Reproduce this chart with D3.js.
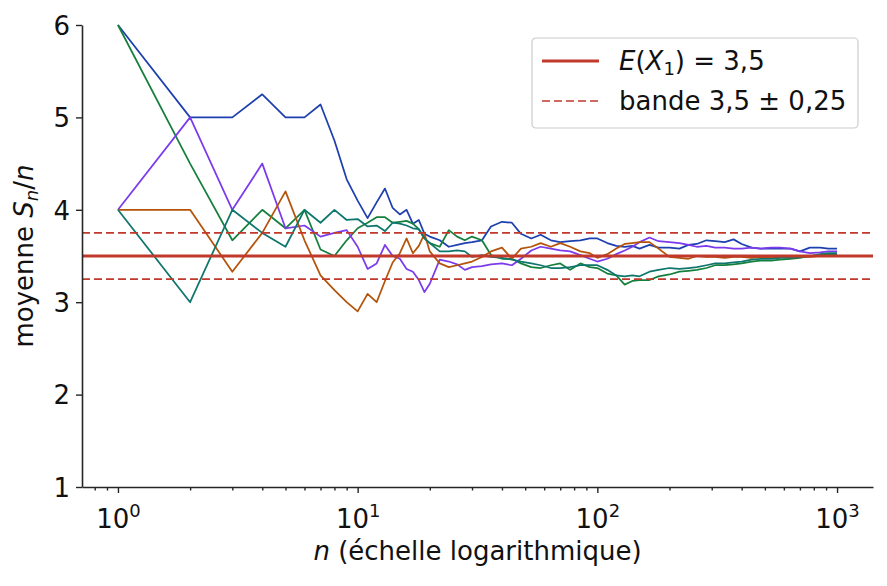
<!DOCTYPE html>
<meta charset="utf-8">
<title>Moyenne empirique S_n/n</title>
<style>
  body {
    margin: 0;
    background: #fff;
  }

  svg {
    display: block;
    font-family: "DejaVu Sans", sans-serif;
  }

  .series path {
    fill: none;
    stroke-width: 1.75px;
    stroke-linejoin: round;
  }

  .axis path,
  .axis line {
    stroke: #262626;
  }

  .axis path {
    stroke-width: 1.6px;
  }

  .axis line {
    stroke-width: 1.4px;
  }

  .axis text {
    fill: #111;
    font-size: 26px;
    font-family: "DejaVu Sans", sans-serif;
  }

  .label {
    fill: #111;
    font-size: 26px;
  }

  .ref {
    stroke: #c0392b;
    fill: none;
  }
</style>
<svg width="887" height="586"></svg>
<script src="https://cdn.jsdelivr.net/npm/d3@7"></script>
<script>
  // valeurs de n retenues
  var nValues = [1, 2, 3, 4, 5, 6, 7, 8, 9, 10, 11, 12, 13, 14, 15, 16, 17, 18, 19, 20,
    22, 24, 26, 28, 30, 33, 36, 40, 44, 48, 53, 58, 64, 70, 77, 85, 93,
    100, 110, 120, 130, 140, 150, 165, 180, 200, 220, 240, 260, 285, 310,
    340, 370, 400, 440, 480, 530, 580, 640, 700, 770, 850, 920, 1000];

  // moyennes S_n/n pour chaque trajectoire
  var serieBleue = [6, 5, 5, 5.25, 5, 5, 5.14, 4.75, 4.33, 4.1, 3.91, 4.08, 4.23, 4.02, 3.95, 4.0, 3.85, 3.89, 3.74, 3.71,
    3.67, 3.60, 3.62, 3.64, 3.65, 3.67, 3.82, 3.87, 3.86, 3.74, 3.69, 3.73, 3.67, 3.65, 3.66, 3.67, 3.69,
    3.69, 3.64, 3.61, 3.60, 3.61, 3.58, 3.62, 3.59, 3.59, 3.58, 3.62, 3.63, 3.67, 3.66,
    3.65, 3.68, 3.63, 3.59, 3.58, 3.58, 3.58, 3.58, 3.55, 3.59, 3.59, 3.58, 3.58];

  var serieVerte = [6, 4.5, 3.67, 4, 3.8, 4, 3.57, 3.5, 3.67, 3.8, 3.86, 3.92, 3.92, 3.86, 3.87, 3.88, 3.85, 3.79, 3.69, 3.64,
    3.60, 3.78, 3.71, 3.67, 3.71, 3.67, 3.51, 3.47, 3.47, 3.42, 3.38, 3.37, 3.40, 3.42, 3.35, 3.42, 3.38,
    3.37, 3.31, 3.29, 3.19, 3.23, 3.24, 3.24, 3.28, 3.30, 3.33, 3.34, 3.35, 3.37, 3.40,
    3.40, 3.41, 3.42, 3.44, 3.45, 3.45, 3.46, 3.47, 3.48, 3.50, 3.51, 3.52, 3.52];

  var serieViolette = [4, 5, 4, 4.5, 3.8, 3.83, 3.71, 3.75, 3.78, 3.6, 3.36, 3.42, 3.62, 3.5, 3.47, 3.36, 3.33, 3.24, 3.11, 3.2,
    3.46, 3.44, 3.41, 3.35, 3.38, 3.39, 3.41, 3.42, 3.40, 3.47, 3.56, 3.60, 3.58, 3.56, 3.55, 3.51, 3.47,
    3.44, 3.47, 3.52, 3.56, 3.60, 3.65, 3.70, 3.66, 3.65, 3.64, 3.62, 3.60, 3.61, 3.59,
    3.59, 3.58, 3.58, 3.59, 3.58, 3.59, 3.59, 3.58, 3.55, 3.53, 3.54, 3.55, 3.55];

  var serieOrange = [4, 4, 3.33, 3.75, 4.2, 3.67, 3.29, 3.13, 3.0, 2.9, 3.09, 3.0, 3.23, 3.43, 3.53, 3.69, 3.53, 3.61, 3.74, 3.55,
    3.42, 3.38, 3.40, 3.42, 3.44, 3.49, 3.55, 3.59, 3.47, 3.58, 3.60, 3.64, 3.60, 3.64, 3.60, 3.55, 3.53,
    3.48, 3.52, 3.58, 3.63, 3.64, 3.65, 3.65, 3.58, 3.49, 3.48, 3.47, 3.50, 3.49, 3.49,
    3.48, 3.49, 3.49, 3.48, 3.49, 3.48, 3.49, 3.48, 3.49, 3.49, 3.50, 3.50, 3.50];

  var serieSarcelle = [4, 3, 4, 3.75, 3.6, 4, 3.86, 4, 3.89, 3.9, 3.82, 3.83, 3.77, 3.86, 3.85, 3.83, 3.80, 3.79, 3.69, 3.64,
    3.55, 3.55, 3.56, 3.55, 3.49, 3.51, 3.49, 3.48, 3.46, 3.44, 3.42, 3.40, 3.37, 3.37, 3.38, 3.40, 3.40,
    3.40, 3.35, 3.29, 3.28, 3.29, 3.28, 3.33, 3.35, 3.37, 3.36, 3.37, 3.38, 3.40, 3.42,
    3.42, 3.43, 3.44, 3.46, 3.47, 3.47, 3.48, 3.48, 3.49, 3.50, 3.52, 3.53, 3.53];

  var esperance = 3.5,
    demiBande = 0.25;

  var yTicks = [1, 2, 3, 4, 5, 6],
    xDecades = [0, 1, 2, 3];

  var series = [
    { values: serieBleue, color: "#1e40af" },
    { values: serieVerte, color: "#15803d" },
    { values: serieViolette, color: "#7c3aed" },
    { values: serieOrange, color: "#b45309" },
    { values: serieSarcelle, color: "#0f766e" }
  ];

  var red = "#c0392b";

  var svg = d3.select("svg"),
    margin = { top: 25, right: 14, bottom: 99, left: 82 },
    width = +svg.attr("width") - margin.left - margin.right,
    height = +svg.attr("height") - margin.top - margin.bottom;

  var x = d3.scaleLog()
    .domain([Math.pow(10, -0.15), Math.pow(10, 3.15)])
    .range([0, width]);

  var y = d3.scaleLinear()
    .domain([1, 6])
    .range([height, 0]);

  var g = svg.append("g")
    .attr("transform", "translate(" + margin.left + "," + margin.top + ")");

  var line = d3.line()
    .x(function(d) { return x(d.n); })
    .y(function(d) { return y(d.v); });

  // trajectoires
  g.append("g")
    .attr("class", "series")
    .selectAll("path")
    .data(series)
    .enter().append("path")
    .attr("stroke", function(d) { return d.color; })
    .attr("d", function(d) {
      return line(nValues.map(function(n, i) {
        return { n: n, v: d.values[i] };
      }));
    });

  // esperance et bande
  g.append("line")
    .attr("class", "ref")
    .attr("x1", 0).attr("x2", width)
    .attr("y1", y(esperance)).attr("y2", y(esperance))
    .attr("stroke-width", 3);

  g.selectAll(".band")
    .data([esperance - demiBande, esperance + demiBande])
    .enter().append("line")
    .attr("class", "ref band")
    .attr("x1", 0).attr("x2", width)
    .attr("y1", function(d) { return y(d); })
    .attr("y2", function(d) { return y(d); })
    .attr("stroke-width", 1.6)
    .attr("stroke-dasharray", "8,4");

  // axes
  var majors = xDecades.map(function(k) { return Math.pow(10, k); });
  var minors = [];
  [-1, 0, 1, 2, 3].forEach(function(k) {
    d3.range(2, 10).forEach(function(m) {
      var v = m * Math.pow(10, k);
      if (v >= x.domain()[0] && v <= x.domain()[1]) minors.push(v);
    });
  });

  var xMinor = g.append("g")
    .attr("class", "axis")
    .attr("transform", "translate(0," + height + ")")
    .call(d3.axisBottom(x).tickValues(minors).tickSize(3.5).tickFormat(""));
  xMinor.select(".domain").remove();
  xMinor.selectAll("line").attr("stroke-width", 1.1);

  var xAxis = g.append("g")
    .attr("class", "axis")
    .attr("transform", "translate(0," + height + ")")
    .call(d3.axisBottom(x).tickValues(majors).tickSize(6).tickSizeOuter(0).tickFormat(""));

  xAxis.selectAll(".tick").append("text")
    .attr("y", 41)
    .attr("text-anchor", "middle")
    .each(function(d) {
      var t = d3.select(this);
      t.append("tspan").text("10");
      t.append("tspan")
        .attr("dy", -11)
        .attr("font-size", "18px")
        .text(Math.round(Math.log10(d)));
    });

  var yAxis = g.append("g")
    .attr("class", "axis")
    .call(d3.axisLeft(y).tickValues(yTicks).tickSize(6).tickSizeOuter(0).tickPadding(6).tickFormat(d3.format("d")));
  yAxis.selectAll("text").attr("dy", "0.36em");

  g.selectAll(".axis .domain").attr("stroke-width", 1.6);

  // titres des axes
  var xl = svg.append("text")
    .attr("class", "label")
    .attr("x", margin.left + width / 2)
    .attr("y", 560)
    .attr("text-anchor", "middle");
  xl.append("tspan").attr("font-style", "italic").text("n");
  xl.append("tspan").text(" (échelle logarithmique)");

  var yl = svg.append("text")
    .attr("class", "label")
    .attr("transform", "translate(33," + (margin.top + height / 2) + ") rotate(-90)")
    .attr("text-anchor", "middle");
  yl.append("tspan").text("moyenne ");
  yl.append("tspan").attr("font-style", "italic").text("S");
  yl.append("tspan").attr("font-style", "italic").attr("font-size", "18px").attr("dy", 5).text("n");
  yl.append("tspan").attr("dy", -5).text("/");
  yl.append("tspan").attr("font-style", "italic").text("n");

  // legende
  var legend = svg.append("g")
    .attr("transform", "translate(532,38)");

  legend.append("rect")
    .attr("width", 326)
    .attr("height", 90)
    .attr("rx", 4)
    .attr("fill", "#fff")
    .attr("fill-opacity", 0.8)
    .attr("stroke", "#cccccc")
    .attr("stroke-width", 1.2);

  legend.append("line")
    .attr("x1", 10).attr("x2", 67)
    .attr("y1", 23).attr("y2", 23)
    .attr("stroke", red)
    .attr("stroke-width", 3);

  legend.append("line")
    .attr("x1", 10).attr("x2", 67)
    .attr("y1", 63).attr("y2", 63)
    .attr("stroke", red)
    .attr("stroke-width", 1.6)
    .attr("stroke-dasharray", "8,4");

  var l1 = legend.append("text")
    .attr("class", "label")
    .attr("x", 87)
    .attr("y", 32);
  l1.append("tspan").attr("font-style", "italic").text("E");
  l1.append("tspan").text("(");
  l1.append("tspan").attr("font-style", "italic").text("X");
  l1.append("tspan").attr("font-size", "18px").attr("dy", 5).text("1");
  l1.append("tspan").attr("dy", -5).text(")");
  l1.append("tspan").text(" = 3,5");

  legend.append("text")
    .attr("class", "label")
    .attr("x", 87)
    .attr("y", 72)
    .text("bande 3,5 ± 0,25");
</script>
